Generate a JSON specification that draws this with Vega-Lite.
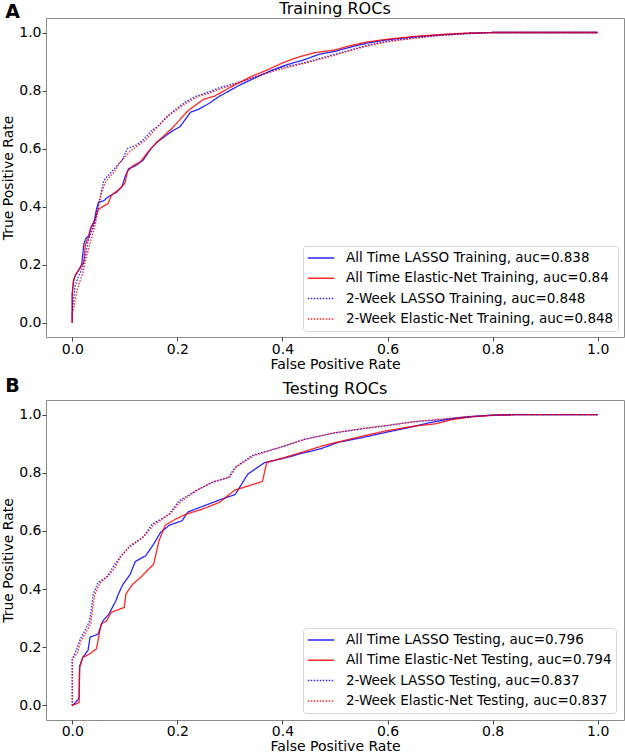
{
  "$schema": "https://vega.github.io/schema/vega-lite/v6.json",
  "padding": {"left": 1, "top": 0, "right": 0, "bottom": 0},
  "bounds": "flush",
  "spacing": 382,
  "resolve": {"scale": {"color": "independent", "strokeDash": "independent", "opacity": "independent"}, "legend": {"color": "independent", "strokeDash": "independent", "opacity": "independent"}},
  "config": {
    "font": "DejaVu Sans",
    "view": {"stroke": "#8c8c8c", "strokeWidth": 1},
    "axis": {"grid": false, "domain": false, "labelFontSize": 14, "titleFontSize": 14, "titleFontWeight": "normal", "labelColor": "#000", "titleColor": "#000", "tickColor": "#444", "tickSize": 4},
    "title": {"fontWeight": "normal", "fontSize": 16, "color": "#000"},
    "legend": {"labelFontSize": 13.5, "labelColor": "#000", "labelLimit": 400, "symbolType": "stroke", "symbolSize": 700, "symbolStrokeWidth": 1.5, "clipHeight": 16, "rowPadding": 4.3, "labelOffset": 11, "padding": 4, "strokeColor": "#d6d6d6", "fillColor": "#ffffff", "cornerRadius": 3}
  },
  "datasets": {
    "trainLabels": [
      {"k": "a", "name": "All Time LASSO Training, auc=0.838"},
      {"k": "b", "name": "All Time Elastic-Net Training, auc=0.84"},
      {"k": "c", "name": "2-Week LASSO Training, auc=0.848"},
      {"k": "d", "name": "2-Week Elastic-Net Training, auc=0.848"}
    ],
    "testLabels": [
      {"k": "a", "name": "All Time LASSO Testing, auc=0.796"},
      {"k": "b", "name": "All Time Elastic-Net Testing, auc=0.794"},
      {"k": "c", "name": "2-Week LASSO Testing, auc=0.837"},
      {"k": "d", "name": "2-Week Elastic-Net Testing, auc=0.837"}
    ],
    "train": [
      {"k":"a","x":0,"y":0},{"k":"a","x":0,"y":0.10},{"k":"a","x":0.002,"y":0.14},{"k":"a","x":0.005,"y":0.16},{"k":"a","x":0.012,"y":0.18},{"k":"a","x":0.018,"y":0.20},{"k":"a","x":0.022,"y":0.27},{"k":"a","x":0.026,"y":0.29},{"k":"a","x":0.032,"y":0.30},{"k":"a","x":0.036,"y":0.33},{"k":"a","x":0.042,"y":0.35},{"k":"a","x":0.046,"y":0.39},{"k":"a","x":0.05,"y":0.415},{"k":"a","x":0.06,"y":0.42},{"k":"a","x":0.07,"y":0.435},{"k":"a","x":0.085,"y":0.45},{"k":"a","x":0.095,"y":0.47},{"k":"a","x":0.1,"y":0.50},{"k":"a","x":0.107,"y":0.53},{"k":"a","x":0.12,"y":0.54},{"k":"a","x":0.135,"y":0.56},{"k":"a","x":0.15,"y":0.60},{"k":"a","x":0.16,"y":0.62},{"k":"a","x":0.175,"y":0.64},{"k":"a","x":0.19,"y":0.66},{"k":"a","x":0.205,"y":0.675},{"k":"a","x":0.215,"y":0.70},{"k":"a","x":0.225,"y":0.725},{"k":"a","x":0.24,"y":0.735},{"k":"a","x":0.26,"y":0.755},{"k":"a","x":0.28,"y":0.78},{"k":"a","x":0.3,"y":0.80},{"k":"a","x":0.32,"y":0.82},{"k":"a","x":0.35,"y":0.845},{"k":"a","x":0.38,"y":0.87},{"k":"a","x":0.41,"y":0.89},{"k":"a","x":0.44,"y":0.905},{"k":"a","x":0.47,"y":0.925},{"k":"a","x":0.5,"y":0.935},{"k":"a","x":0.53,"y":0.95},{"k":"a","x":0.56,"y":0.963},{"k":"a","x":0.6,"y":0.975},{"k":"a","x":0.65,"y":0.985},{"k":"a","x":0.7,"y":0.992},{"k":"a","x":0.75,"y":0.997},{"k":"a","x":0.8,"y":1.0},{"k":"a","x":1.0,"y":1.0},
      {"k":"b","x":0,"y":0},{"k":"b","x":0,"y":0.10},{"k":"b","x":0.003,"y":0.15},{"k":"b","x":0.008,"y":0.17},{"k":"b","x":0.016,"y":0.19},{"k":"b","x":0.022,"y":0.21},{"k":"b","x":0.025,"y":0.27},{"k":"b","x":0.03,"y":0.29},{"k":"b","x":0.034,"y":0.32},{"k":"b","x":0.04,"y":0.34},{"k":"b","x":0.046,"y":0.37},{"k":"b","x":0.05,"y":0.39},{"k":"b","x":0.058,"y":0.40},{"k":"b","x":0.068,"y":0.41},{"k":"b","x":0.075,"y":0.44},{"k":"b","x":0.09,"y":0.46},{"k":"b","x":0.1,"y":0.48},{"k":"b","x":0.105,"y":0.52},{"k":"b","x":0.115,"y":0.54},{"k":"b","x":0.13,"y":0.555},{"k":"b","x":0.145,"y":0.59},{"k":"b","x":0.16,"y":0.62},{"k":"b","x":0.175,"y":0.645},{"k":"b","x":0.19,"y":0.67},{"k":"b","x":0.2,"y":0.69},{"k":"b","x":0.21,"y":0.71},{"k":"b","x":0.22,"y":0.73},{"k":"b","x":0.235,"y":0.75},{"k":"b","x":0.25,"y":0.77},{"k":"b","x":0.27,"y":0.78},{"k":"b","x":0.29,"y":0.80},{"k":"b","x":0.31,"y":0.82},{"k":"b","x":0.34,"y":0.848},{"k":"b","x":0.37,"y":0.87},{"k":"b","x":0.4,"y":0.895},{"k":"b","x":0.43,"y":0.915},{"k":"b","x":0.46,"y":0.93},{"k":"b","x":0.5,"y":0.94},{"k":"b","x":0.53,"y":0.955},{"k":"b","x":0.56,"y":0.967},{"k":"b","x":0.6,"y":0.977},{"k":"b","x":0.65,"y":0.986},{"k":"b","x":0.7,"y":0.993},{"k":"b","x":0.75,"y":0.998},{"k":"b","x":0.8,"y":1.0},{"k":"b","x":1.0,"y":1.0},
      {"k":"c","x":0,"y":0},{"k":"c","x":0,"y":0.04},{"k":"c","x":0.003,"y":0.09},{"k":"c","x":0.006,"y":0.13},{"k":"c","x":0.012,"y":0.16},{"k":"c","x":0.02,"y":0.19},{"k":"c","x":0.026,"y":0.24},{"k":"c","x":0.03,"y":0.28},{"k":"c","x":0.036,"y":0.31},{"k":"c","x":0.042,"y":0.34},{"k":"c","x":0.048,"y":0.39},{"k":"c","x":0.054,"y":0.44},{"k":"c","x":0.06,"y":0.49},{"k":"c","x":0.065,"y":0.50},{"k":"c","x":0.075,"y":0.52},{"k":"c","x":0.085,"y":0.54},{"k":"c","x":0.095,"y":0.56},{"k":"c","x":0.105,"y":0.60},{"k":"c","x":0.12,"y":0.61},{"k":"c","x":0.135,"y":0.63},{"k":"c","x":0.15,"y":0.66},{"k":"c","x":0.165,"y":0.68},{"k":"c","x":0.18,"y":0.71},{"k":"c","x":0.2,"y":0.74},{"k":"c","x":0.215,"y":0.76},{"k":"c","x":0.235,"y":0.78},{"k":"c","x":0.26,"y":0.795},{"k":"c","x":0.28,"y":0.81},{"k":"c","x":0.3,"y":0.82},{"k":"c","x":0.33,"y":0.835},{"k":"c","x":0.36,"y":0.855},{"k":"c","x":0.4,"y":0.88},{"k":"c","x":0.44,"y":0.895},{"k":"c","x":0.48,"y":0.915},{"k":"c","x":0.52,"y":0.935},{"k":"c","x":0.56,"y":0.955},{"k":"c","x":0.6,"y":0.97},{"k":"c","x":0.65,"y":0.982},{"k":"c","x":0.7,"y":0.99},{"k":"c","x":0.75,"y":0.996},{"k":"c","x":0.8,"y":1.0},{"k":"c","x":1.0,"y":1.0},
      {"k":"d","x":0,"y":0},{"k":"d","x":0,"y":0.03},{"k":"d","x":0.004,"y":0.06},{"k":"d","x":0.008,"y":0.10},{"k":"d","x":0.012,"y":0.13},{"k":"d","x":0.02,"y":0.17},{"k":"d","x":0.026,"y":0.22},{"k":"d","x":0.032,"y":0.26},{"k":"d","x":0.038,"y":0.30},{"k":"d","x":0.044,"y":0.34},{"k":"d","x":0.05,"y":0.40},{"k":"d","x":0.056,"y":0.45},{"k":"d","x":0.062,"y":0.48},{"k":"d","x":0.07,"y":0.50},{"k":"d","x":0.08,"y":0.52},{"k":"d","x":0.09,"y":0.55},{"k":"d","x":0.1,"y":0.57},{"k":"d","x":0.11,"y":0.59},{"k":"d","x":0.125,"y":0.61},{"k":"d","x":0.14,"y":0.63},{"k":"d","x":0.155,"y":0.66},{"k":"d","x":0.17,"y":0.69},{"k":"d","x":0.185,"y":0.715},{"k":"d","x":0.2,"y":0.735},{"k":"d","x":0.22,"y":0.76},{"k":"d","x":0.24,"y":0.78},{"k":"d","x":0.26,"y":0.79},{"k":"d","x":0.28,"y":0.805},{"k":"d","x":0.3,"y":0.815},{"k":"d","x":0.33,"y":0.835},{"k":"d","x":0.36,"y":0.855},{"k":"d","x":0.4,"y":0.875},{"k":"d","x":0.44,"y":0.893},{"k":"d","x":0.48,"y":0.912},{"k":"d","x":0.52,"y":0.933},{"k":"d","x":0.56,"y":0.953},{"k":"d","x":0.6,"y":0.968},{"k":"d","x":0.65,"y":0.98},{"k":"d","x":0.7,"y":0.99},{"k":"d","x":0.75,"y":0.996},{"k":"d","x":0.8,"y":1.0},{"k":"d","x":1.0,"y":1.0}
    ],
    "test": [
      {"k":"a","x":0,"y":0},{"k":"a","x":0.006,"y":0.01},{"k":"a","x":0.011,"y":0.02},{"k":"a","x":0.013,"y":0.03},{"k":"a","x":0.014,"y":0.135},{"k":"a","x":0.02,"y":0.165},{"k":"a","x":0.03,"y":0.19},{"k":"a","x":0.034,"y":0.235},{"k":"a","x":0.049,"y":0.245},{"k":"a","x":0.058,"y":0.29},{"k":"a","x":0.07,"y":0.315},{"k":"a","x":0.083,"y":0.36},{"k":"a","x":0.087,"y":0.38},{"k":"a","x":0.096,"y":0.415},{"k":"a","x":0.11,"y":0.45},{"k":"a","x":0.12,"y":0.495},{"k":"a","x":0.14,"y":0.515},{"k":"a","x":0.155,"y":0.555},{"k":"a","x":0.168,"y":0.595},{"k":"a","x":0.185,"y":0.62},{"k":"a","x":0.209,"y":0.635},{"k":"a","x":0.22,"y":0.665},{"k":"a","x":0.246,"y":0.683},{"k":"a","x":0.278,"y":0.705},{"k":"a","x":0.31,"y":0.725},{"k":"a","x":0.322,"y":0.76},{"k":"a","x":0.334,"y":0.795},{"k":"a","x":0.366,"y":0.835},{"k":"a","x":0.403,"y":0.85},{"k":"a","x":0.44,"y":0.868},{"k":"a","x":0.472,"y":0.882},{"k":"a","x":0.507,"y":0.905},{"k":"a","x":0.55,"y":0.92},{"k":"a","x":0.6,"y":0.94},{"k":"a","x":0.64,"y":0.955},{"k":"a","x":0.68,"y":0.972},{"k":"a","x":0.72,"y":0.985},{"k":"a","x":0.76,"y":0.993},{"k":"a","x":0.8,"y":0.998},{"k":"a","x":0.85,"y":1.0},{"k":"a","x":1.0,"y":1.0},
      {"k":"b","x":0,"y":0},{"k":"b","x":0.013,"y":0.01},{"k":"b","x":0.014,"y":0.13},{"k":"b","x":0.02,"y":0.165},{"k":"b","x":0.033,"y":0.177},{"k":"b","x":0.046,"y":0.195},{"k":"b","x":0.055,"y":0.28},{"k":"b","x":0.065,"y":0.29},{"k":"b","x":0.074,"y":0.32},{"k":"b","x":0.099,"y":0.337},{"k":"b","x":0.102,"y":0.383},{"k":"b","x":0.115,"y":0.417},{"k":"b","x":0.13,"y":0.44},{"k":"b","x":0.155,"y":0.486},{"k":"b","x":0.165,"y":0.566},{"k":"b","x":0.177,"y":0.62},{"k":"b","x":0.196,"y":0.64},{"k":"b","x":0.216,"y":0.657},{"k":"b","x":0.246,"y":0.674},{"k":"b","x":0.28,"y":0.698},{"k":"b","x":0.309,"y":0.74},{"k":"b","x":0.334,"y":0.754},{"k":"b","x":0.362,"y":0.77},{"k":"b","x":0.37,"y":0.835},{"k":"b","x":0.403,"y":0.852},{"k":"b","x":0.44,"y":0.872},{"k":"b","x":0.472,"y":0.89},{"k":"b","x":0.5,"y":0.903},{"k":"b","x":0.55,"y":0.925},{"k":"b","x":0.6,"y":0.945},{"k":"b","x":0.65,"y":0.96},{"k":"b","x":0.69,"y":0.968},{"k":"b","x":0.72,"y":0.982},{"k":"b","x":0.76,"y":0.992},{"k":"b","x":0.8,"y":0.997},{"k":"b","x":0.85,"y":1.0},{"k":"b","x":1.0,"y":1.0},
      {"k":"c","x":0,"y":0},{"k":"c","x":0,"y":0.16},{"k":"c","x":0.008,"y":0.19},{"k":"c","x":0.014,"y":0.223},{"k":"c","x":0.024,"y":0.257},{"k":"c","x":0.033,"y":0.29},{"k":"c","x":0.04,"y":0.383},{"k":"c","x":0.049,"y":0.423},{"k":"c","x":0.065,"y":0.44},{"k":"c","x":0.077,"y":0.474},{"k":"c","x":0.09,"y":0.509},{"k":"c","x":0.108,"y":0.543},{"k":"c","x":0.134,"y":0.577},{"k":"c","x":0.152,"y":0.623},{"k":"c","x":0.184,"y":0.657},{"k":"c","x":0.203,"y":0.703},{"k":"c","x":0.234,"y":0.737},{"k":"c","x":0.265,"y":0.766},{"k":"c","x":0.297,"y":0.783},{"k":"c","x":0.309,"y":0.817},{"k":"c","x":0.343,"y":0.86},{"k":"c","x":0.403,"y":0.891},{"k":"c","x":0.44,"y":0.914},{"k":"c","x":0.5,"y":0.937},{"k":"c","x":0.55,"y":0.95},{"k":"c","x":0.6,"y":0.962},{"k":"c","x":0.65,"y":0.975},{"k":"c","x":0.7,"y":0.982},{"k":"c","x":0.75,"y":0.992},{"k":"c","x":0.8,"y":0.998},{"k":"c","x":0.85,"y":1.0},{"k":"c","x":1.0,"y":1.0},
      {"k":"d","x":0,"y":0},{"k":"d","x":0,"y":0.16},{"k":"d","x":0.01,"y":0.18},{"k":"d","x":0.016,"y":0.22},{"k":"d","x":0.026,"y":0.25},{"k":"d","x":0.035,"y":0.28},{"k":"d","x":0.042,"y":0.375},{"k":"d","x":0.052,"y":0.42},{"k":"d","x":0.068,"y":0.445},{"k":"d","x":0.08,"y":0.47},{"k":"d","x":0.092,"y":0.51},{"k":"d","x":0.11,"y":0.55},{"k":"d","x":0.136,"y":0.58},{"k":"d","x":0.155,"y":0.62},{"k":"d","x":0.187,"y":0.66},{"k":"d","x":0.206,"y":0.70},{"k":"d","x":0.238,"y":0.74},{"k":"d","x":0.27,"y":0.77},{"k":"d","x":0.3,"y":0.785},{"k":"d","x":0.312,"y":0.82},{"k":"d","x":0.345,"y":0.858},{"k":"d","x":0.405,"y":0.893},{"k":"d","x":0.445,"y":0.916},{"k":"d","x":0.5,"y":0.938},{"k":"d","x":0.55,"y":0.952},{"k":"d","x":0.6,"y":0.963},{"k":"d","x":0.65,"y":0.976},{"k":"d","x":0.7,"y":0.984},{"k":"d","x":0.75,"y":0.993},{"k":"d","x":0.8,"y":0.998},{"k":"d","x":0.85,"y":1.0},{"k":"d","x":1.0,"y":1.0}
    ]
  },
  "vconcat": [
    {
      "title": {"text": "A", "anchor": "start", "fontSize": 19, "fontWeight": "bold", "dx": 4, "dy": 21, "offset": 0},
      "vconcat": [
        {
          "title": {"text": "Training ROCs", "anchor": "middle", "fontSize": 16, "offset": 1},
          "width": 578,
          "height": 319,
          "data": {"name": "train"},
          "transform": [{"lookup": "k", "from": {"data": {"name": "trainLabels"}, "key": "k", "fields": ["name"]}}],
          "mark": {"type": "line", "strokeWidth": 1.3, "clip": true},
          "encoding": {
            "x": {"field": "x", "type": "quantitative", "scale": {"domain": [-0.05, 1.05], "nice": false, "zero": false}, "axis": {"values": [0, 0.2, 0.4, 0.6, 0.8, 1.0], "format": ".1f", "title": "False Positive Rate", "labelPadding": 1, "titlePadding": 1}},
            "y": {"field": "y", "type": "quantitative", "scale": {"domain": [-0.05, 1.05], "nice": false, "zero": false}, "axis": {"values": [0, 0.2, 0.4, 0.6, 0.8, 1.0], "format": ".1f", "title": "True Positive Rate", "labelPadding": 1, "titlePadding": 3}},
            "color": {"field": "name", "type": "nominal", "scale": {"domain": ["All Time LASSO Training, auc=0.838", "All Time Elastic-Net Training, auc=0.84", "2-Week LASSO Training, auc=0.848", "2-Week Elastic-Net Training, auc=0.848"], "range": ["#0000ff", "#ff0000", "#0000ff", "#ff0000"]}, "legend": {"title": null, "orient": "none", "legendX": 257, "legendY": 228}},
            "strokeDash": {"field": "name", "type": "nominal", "scale": {"domain": ["All Time LASSO Training, auc=0.838", "All Time Elastic-Net Training, auc=0.84", "2-Week LASSO Training, auc=0.848", "2-Week Elastic-Net Training, auc=0.848"], "range": [[1, 0], [1, 0], [1.5, 1.5], [1.5, 1.5]]}},
            "opacity": {"field": "name", "type": "nominal", "scale": {"domain": ["All Time LASSO Training, auc=0.838", "All Time Elastic-Net Training, auc=0.84", "2-Week LASSO Training, auc=0.848", "2-Week Elastic-Net Training, auc=0.848"], "range": [0.85, 0.85, 0.6, 0.6]}}
          }
        }
      ]
    },
    {
      "title": {"text": "B", "anchor": "start", "fontSize": 19, "fontWeight": "bold", "dx": 4, "dy": 15, "offset": 0},
      "vconcat": [
        {
          "title": {"text": "Testing ROCs", "anchor": "middle", "fontSize": 16, "offset": 3},
          "width": 578,
          "height": 320,
          "data": {"name": "test"},
          "transform": [{"lookup": "k", "from": {"data": {"name": "testLabels"}, "key": "k", "fields": ["name"]}}],
          "mark": {"type": "line", "strokeWidth": 1.3, "clip": true},
          "encoding": {
            "x": {"field": "x", "type": "quantitative", "scale": {"domain": [-0.05, 1.05], "nice": false, "zero": false}, "axis": {"values": [0, 0.2, 0.4, 0.6, 0.8, 1.0], "format": ".1f", "title": "False Positive Rate", "labelPadding": 0, "titlePadding": 1}},
            "y": {"field": "y", "type": "quantitative", "scale": {"domain": [-0.05, 1.05], "nice": false, "zero": false}, "axis": {"values": [0, 0.2, 0.4, 0.6, 0.8, 1.0], "format": ".1f", "title": "True Positive Rate", "labelPadding": 1, "titlePadding": 3}},
            "color": {"field": "name", "type": "nominal", "scale": {"domain": ["All Time LASSO Testing, auc=0.796", "All Time Elastic-Net Testing, auc=0.794", "2-Week LASSO Testing, auc=0.837", "2-Week Elastic-Net Testing, auc=0.837"], "range": ["#0000ff", "#ff0000", "#0000ff", "#ff0000"]}, "legend": {"title": null, "orient": "none", "legendX": 257, "legendY": 228}},
            "strokeDash": {"field": "name", "type": "nominal", "scale": {"domain": ["All Time LASSO Testing, auc=0.796", "All Time Elastic-Net Testing, auc=0.794", "2-Week LASSO Testing, auc=0.837", "2-Week Elastic-Net Testing, auc=0.837"], "range": [[1, 0], [1, 0], [1.5, 1.5], [1.5, 1.5]]}},
            "opacity": {"field": "name", "type": "nominal", "scale": {"domain": ["All Time LASSO Testing, auc=0.796", "All Time Elastic-Net Testing, auc=0.794", "2-Week LASSO Testing, auc=0.837", "2-Week Elastic-Net Testing, auc=0.837"], "range": [0.85, 0.85, 0.6, 0.6]}}
          }
        }
      ]
    }
  ]
}
